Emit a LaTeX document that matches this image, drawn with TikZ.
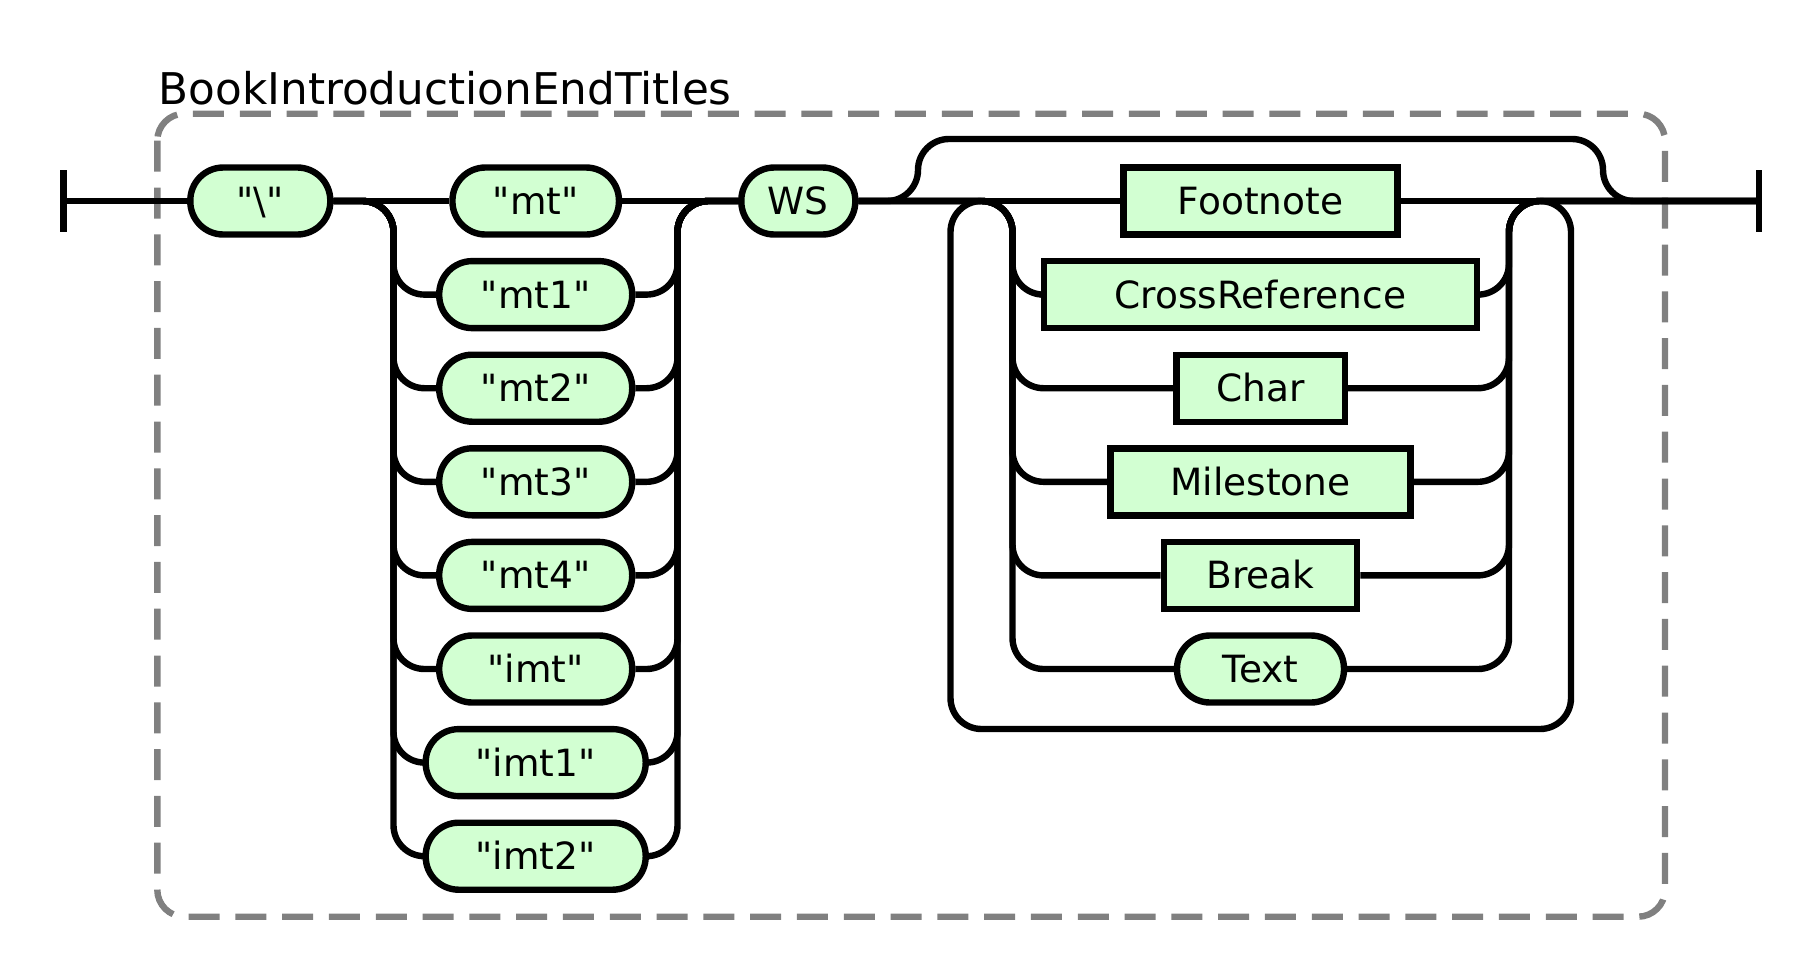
\documentclass[tikz,border=0pt]{standalone}
\usepackage{fontspec}
\setmainfont{DejaVu Sans}
\usepackage{tikz}
\definecolor{railgreen}{RGB}{210,255,210}
\definecolor{railgray}{RGB}{128,128,128}
\newcommand{\railtext}{\fontsize{37.5}{42}\selectfont}
\newcommand{\railtitle}{\fontsize{43.7}{48}\selectfont}
\newcommand{\lit}[1]{\textquotedbl#1\textquotedbl}
\tikzstyle{terminal} = [rectangle, rounded corners=33pt, minimum height=67pt, text height=27pt, text depth=0pt, inner sep=0pt, text centered, draw=black, line width=6.4pt, fill=railgreen, font=\railtext]
\tikzstyle{nonterminal} = [rectangle, minimum height=67pt, text height=27pt, text depth=0pt, inner sep=0pt, text centered, draw=black, line width=6.4pt, fill=railgreen, font=\railtext]
\tikzstyle{track} = [line width=6.4pt, rounded corners=31pt]
\tikzstyle{group} = [line width=6.4pt, draw=railgray, dash pattern=on 31pt off 15.8pt, rounded corners=27pt]

\begin{document}
\begin{tikzpicture}[x=1pt, y=-1pt, node distance=93.6pt]
\useasboundingbox (0,0) rectangle (1820,978);
\draw [group] (157.3,113.7) rectangle (1665,916.7);
\node (title) [anchor=base west, inner sep=0pt, font=\railtitle] at (158.5,104.3) {BookIntroductionEndTitles};

\coordinate (begin) at (63.5,201);
\coordinate (finish) at (1759,201);
\coordinate (split) at (393.5,201);
\coordinate (join) at (677.5,201);
\coordinate (skipL) at (918,139);
\coordinate (skipR) at (1603,139);
\coordinate (cl) at (1012.5,201);
\coordinate (cr) at (1509,201);
\coordinate (joinL) at (981.5,201);
\coordinate (joinR) at (1540,201);
\coordinate (loopL) at (950.5,729);
\coordinate (loopR) at (1571,729);

\node (bslash) [terminal, minimum width=140pt] at (260.3,201) {\lit{\textbackslash}};
  \node (mt) [terminal, minimum width=166.5pt] at (535.7,201) {\lit{mt}};
  \node (mt1) [terminal, minimum width=193pt, below of=mt] {\lit{mt1}};
  \node (mt2) [terminal, minimum width=193pt, below of=mt1] {\lit{mt2}};
  \node (mt3) [terminal, minimum width=193pt, below of=mt2] {\lit{mt3}};
  \node (mt4) [terminal, minimum width=193pt, below of=mt3] {\lit{mt4}};
  \node (imt) [terminal, minimum width=193pt, below of=mt4] {\lit{imt}};
  \node (imt1) [terminal, minimum width=220pt, below of=imt] {\lit{imt1}};
  \node (imt2) [terminal, minimum width=220pt, below of=imt1] {\lit{imt2}};
  \node (ws) [terminal, minimum width=114pt] at (798.3,201) {WS};

    \node (footnote) [nonterminal, minimum width=274pt] at (1260.5,201) {Footnote};
    \node (crossref) [nonterminal, minimum width=433.3pt, below of=footnote] {CrossReference};
    \node (char) [nonterminal, minimum width=168.4pt, below of=crossref] {Char};
    \node (milestone) [nonterminal, minimum width=300pt, below of=char] {Milestone};
    \node (brk) [nonterminal, minimum width=193.3pt, below of=milestone] {Break};
    \node (txt) [terminal, minimum width=167pt, below of=brk] {Text};

  % start and end bars
  \draw [track] ([yshift=31pt]begin) -- ([yshift=-31pt]begin);
  \draw [track] ([yshift=31pt]finish) -- ([yshift=-31pt]finish);

  \draw [track] (begin) -- (bslash.west);
  \draw [track] (bslash.east) -- (mt.west);
  \draw [track] (mt.east) -- (ws.west);
  \draw [track] (ws.east) -- (footnote.west);
  \draw [track] (footnote.east) -- (finish);

  \foreach \n in {mt1,mt2,mt3,mt4,imt,imt1,imt2}{
    \draw [track] (bslash.east) -| (split |- \n) -- (\n.west);
    \draw [track] (\n.east) -| (join) -- (ws.west);
  }

  \foreach \n in {crossref,char,milestone,brk,txt}{
    \draw [track] (ws.east) -| (cl |- \n) -- (\n.west);
    \draw [track] (\n.east) -| (cr) -- (finish);
  }

  % skip over the top
  \draw [track] (ws.east) -| (skipL) -- (skipR) |- (finish);

  % loop back underneath
  \draw [track] (joinR) -| (loopR) -- (loopL) |- (joinL);
\end{tikzpicture}
\end{document}
